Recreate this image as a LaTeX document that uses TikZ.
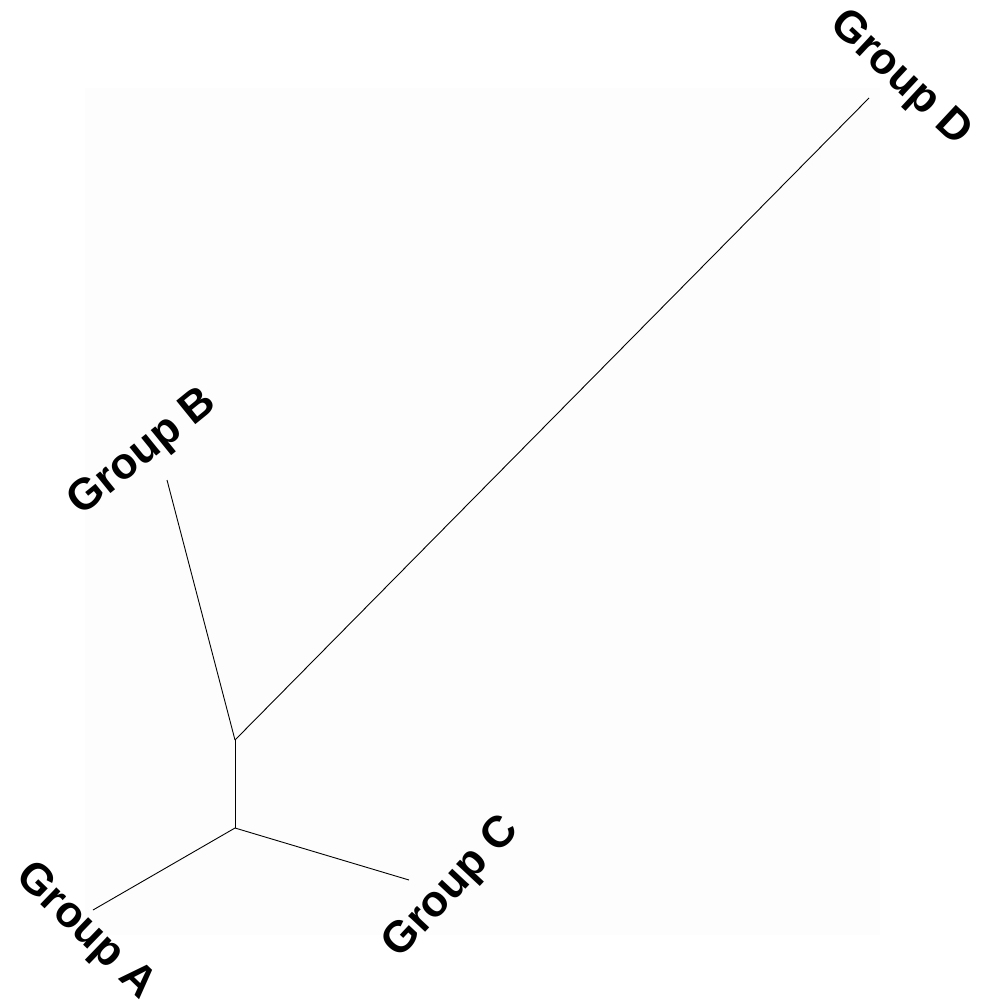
\documentclass[tikz,border=0pt]{standalone}
\usepackage{fontspec}
\setmainfont{Liberation Sans}
\begin{document}
\begin{tikzpicture}[x=1pt,y=-1pt,
  branch/.style={draw=black,line width=0.9pt},
  lbl/.style={font=\bfseries\fontsize{44}{50}\selectfont,inner sep=0pt}]
\useasboundingbox (0,0) rectangle (986,1003);
\fill[white] (0,0) rectangle (986,1003);
\fill[black!0.6] (85,88) rectangle (880,935);
\coordinate (j1) at (235,740);
\coordinate (j2) at (235,828);
\coordinate (b) at (167,480);
\coordinate (d) at (869,98);
\coordinate (a) at (93,910);
\coordinate (c) at (409,880);
\draw[branch] (j1) -- (b);
\draw[branch] (j1) -- (d);
\draw[branch] (j1) -- (j2);
\draw[branch] (j2) -- (a);
\draw[branch] (j2) -- (c);
\node[lbl,rotate=-44] (la) at (85,932) {Group A};
\node[lbl,rotate=39] (lb) at (143,453) {Group B};
\node[lbl,rotate=47] (lc) at (452,888) {Group C};
\node[lbl,rotate=-43] (ld) at (900,79) {Group D};
\end{tikzpicture}
\end{document}
